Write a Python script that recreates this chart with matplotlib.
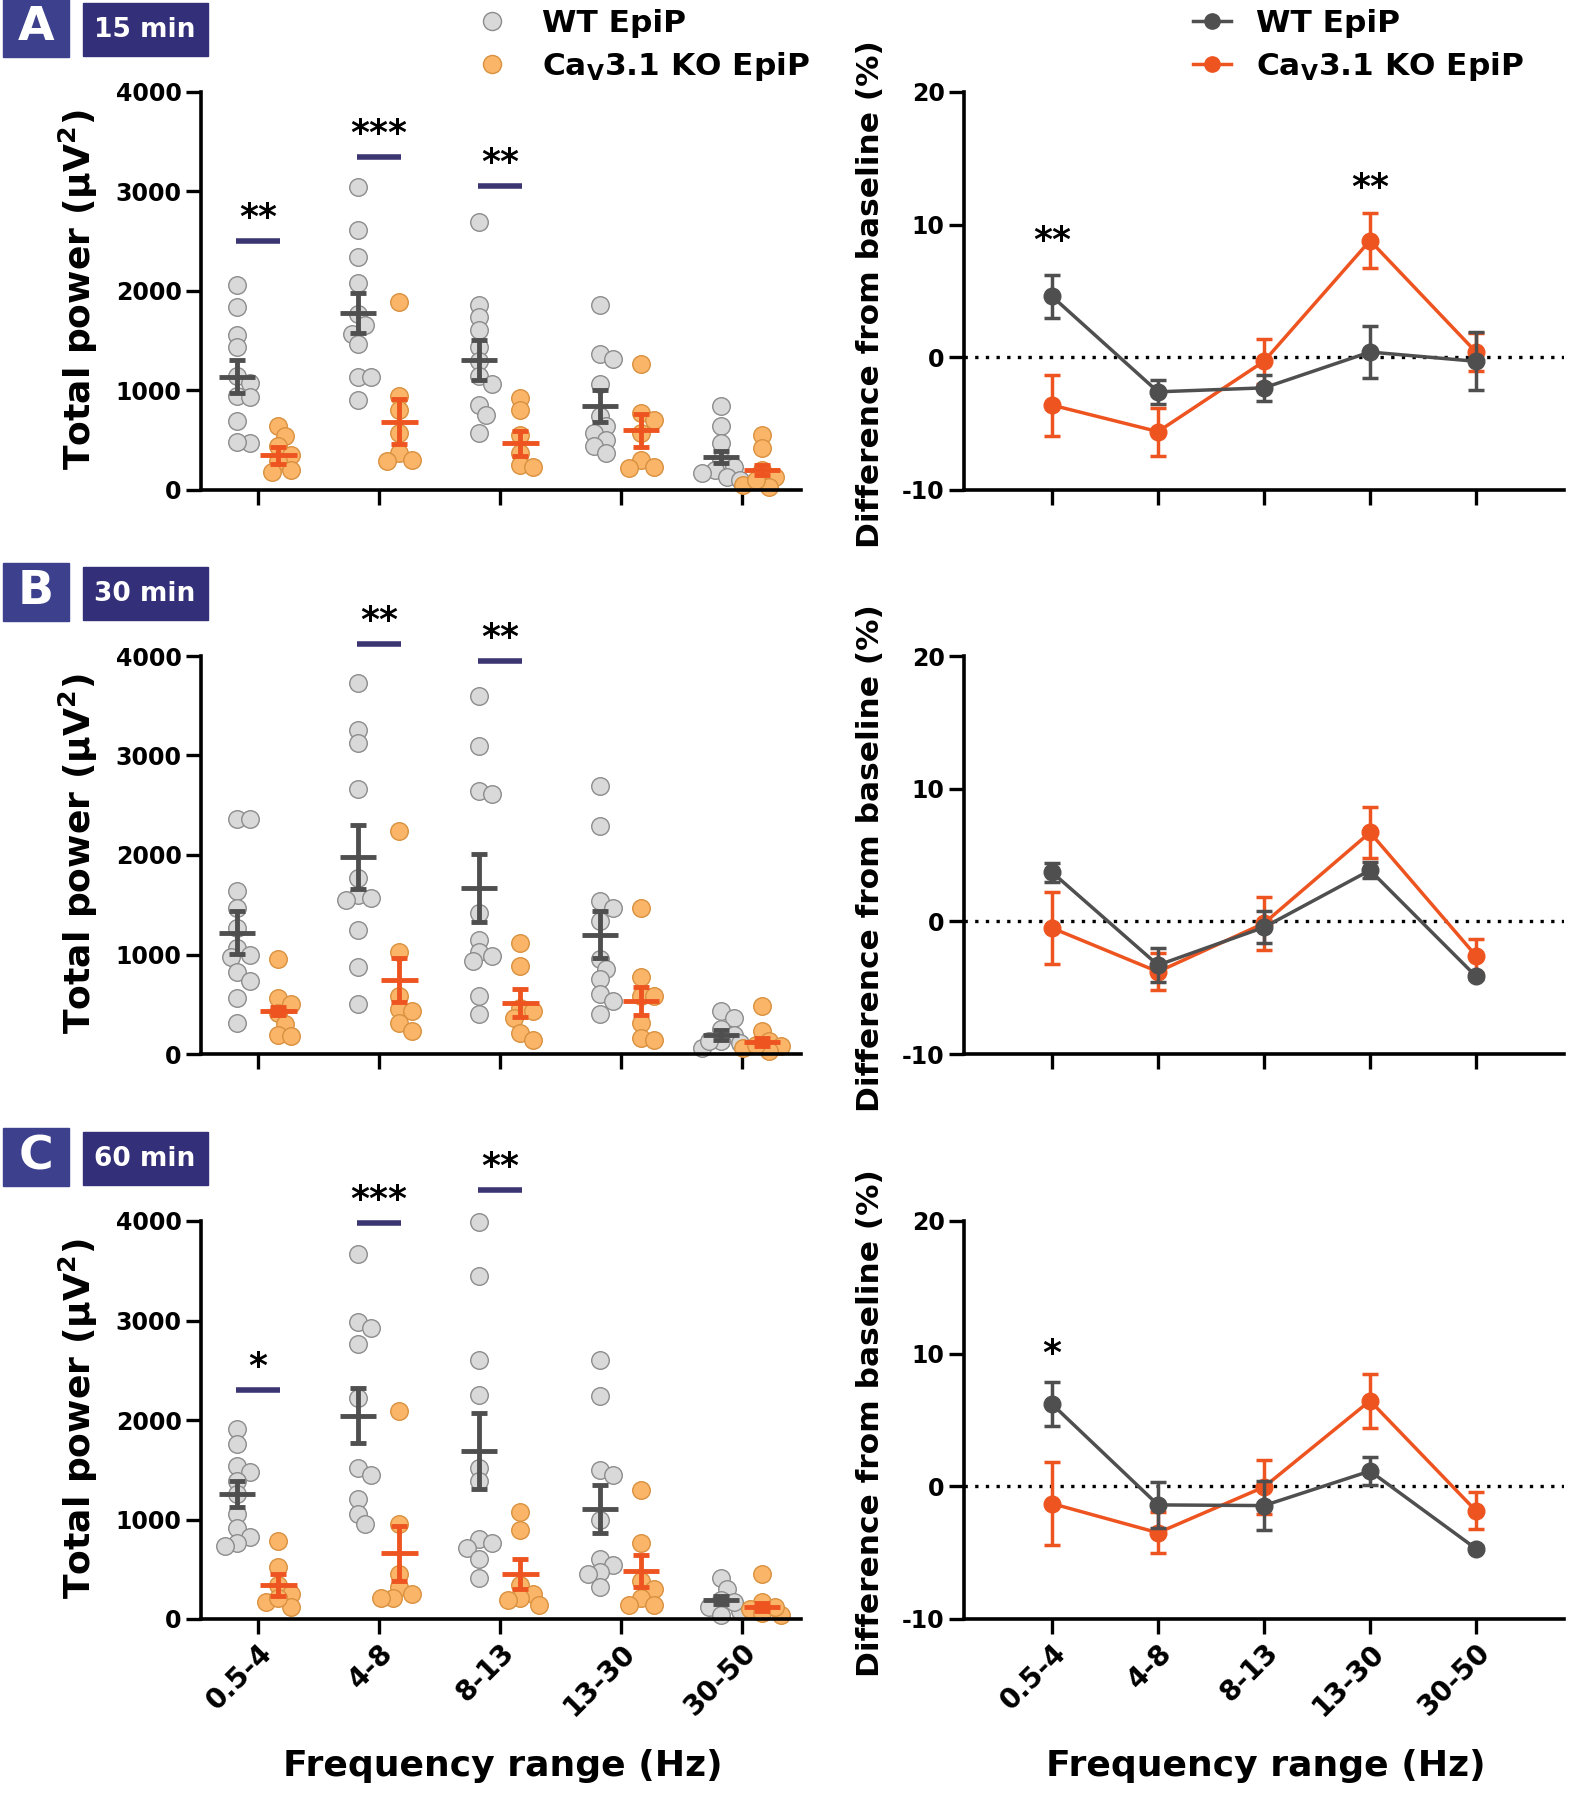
import numpy as np
import matplotlib.pyplot as plt
from matplotlib.patches import Rectangle
from matplotlib.lines import Line2D

plt.rcParams['font.family'] = ['DejaVu Sans']
plt.rcParams['font.weight'] = 'bold'
plt.rcParams['mathtext.default'] = 'bf'
plt.rcParams['axes.unicode_minus'] = False

### Data
bands = ['0.5-4', '4-8', '8-13', '13-30', '30-50']

# total power per animal (uV^2), one list per band
wt_15 = [[2060, 1840, 1560, 1440, 1150, 1080, 940, 930, 690, 470, 480],
         [3050, 2610, 2340, 2080, 1770, 1660, 1570, 1470, 1140, 1140, 900],
         [2690, 1860, 1740, 1610, 1440, 1300, 1150, 1070, 850, 750, 570],
         [1860, 1370, 1320, 1070, 740, 640, 570, 500, 440, 370],
         [840, 640, 470, 300, 230, 200, 130, 100, 170]]
ko_15 = [[640, 540, 440, 350, 290, 200, 180],
         [1890, 940, 800, 570, 370, 300, 290],
         [920, 800, 550, 370, 250, 230],
         [1270, 770, 700, 570, 300, 220, 230],
         [550, 420, 200, 130, 50, 30, 100]]
wt_mean_15 = [1140, 1775, 1305, 840, 335]
wt_sem_15 = [165, 200, 200, 160, 60]
ko_mean_15 = [350, 685, 470, 600, 200]
ko_sem_15 = [85, 225, 125, 165, 50]

wt_30 = [[2360, 2360, 1640, 1470, 1270, 1070, 970, 1000, 820, 730, 560, 310],
         [3730, 3260, 3130, 2660, 1770, 1600, 1570, 1550, 1250, 870, 500],
         [3600, 3100, 2640, 2610, 1420, 1150, 1030, 980, 930, 580, 400],
         [2690, 2290, 1540, 1470, 1340, 950, 850, 750, 600, 530, 400],
         [430, 360, 250, 190, 130, 110, 60, 130]]
ko_30 = [[950, 560, 500, 410, 300, 190, 180],
         [2240, 1030, 580, 450, 430, 310, 230],
         [1120, 880, 460, 360, 430, 210, 140],
         [1470, 770, 580, 580, 310, 160, 140],
         [480, 230, 130, 80, 30, 60, 90]]
wt_mean_30 = [1220, 1980, 1670, 1200, 195]
wt_sem_30 = [215, 320, 345, 235, 50]
ko_mean_30 = [430, 740, 515, 530, 125]
ko_sem_30 = [40, 220, 140, 140, 40]

wt_60 = [[1910, 1760, 1540, 1480, 1390, 1260, 1060, 910, 820, 760, 730],
         [3670, 2980, 2920, 2760, 2220, 1520, 1450, 1210, 1060, 950],
         [3990, 3450, 2600, 2250, 1520, 1390, 800, 760, 710, 600, 410],
         [2600, 2240, 1500, 1450, 1000, 600, 540, 470, 450, 320],
         [410, 300, 190, 120, 80, 40, 170]]
ko_60 = [[780, 520, 340, 250, 170, 120, 210],
         [2090, 950, 450, 320, 250, 210, 210],
         [1080, 890, 340, 250, 210, 140, 190],
         [1300, 760, 380, 300, 210, 140, 140],
         [450, 170, 100, 60, 40, 120]]
wt_mean_60 = [1260, 2045, 1690, 1105, 190]
wt_sem_60 = [130, 275, 380, 240, 40]
ko_mean_60 = [340, 660, 450, 480, 120]
ko_sem_60 = [110, 275, 150, 160, 40]

# difference from baseline (%), mean and SEM
wt_diff_15 = [4.6, -2.6, -2.3, 0.4, -0.3]
wt_err_15 = [1.6, 0.9, 1.0, 1.95, 2.2]
ko_diff_15 = [-3.6, -5.6, -0.3, 8.8, 0.4]
ko_err_15 = [2.3, 1.8, 1.7, 2.05, 1.4]

wt_diff_30 = [3.7, -3.3, -0.45, 3.85, -4.15]
wt_err_30 = [0.7, 1.3, 1.2, 0.6, 0.2]
ko_diff_30 = [-0.5, -3.8, -0.15, 6.7, -2.6]
ko_err_30 = [2.7, 1.4, 2.0, 1.9, 1.3]

wt_diff_60 = [6.2, -1.4, -1.45, 1.15, -4.7]
wt_err_60 = [1.65, 1.75, 1.85, 1.05, 0.2]
ko_diff_60 = [-1.3, -3.5, -0.05, 6.45, -1.85]
ko_err_60 = [3.1, 1.55, 2.05, 2.05, 1.4]

# significance marks (band index, label, height)
sig_pow_15 = [(0, '**', 2500), (1, '***', 3350), (2, '**', 3060)]
sig_pow_30 = [(1, '**', 4120), (2, '**', 3950)]
sig_pow_60 = [(0, '*', 2300), (1, '***', 3980), (2, '**', 4315)]
sig_diff_15 = [(0, '**', 8.8), (3, '**', 12.8)]
sig_diff_30 = []
sig_diff_60 = [(0, '*', 10.0)]

### Colours
GRAY_FILL = '#d9d9d9'
GRAY_EDGE = '#8c8c8c'
ORANGE_FILL = '#fbb569'
ORANGE_EDGE = '#d9913f'
WT_DARK = '#4f4f4f'
KO_RED = '#ee5420'
NAVY = '#3b3672'


def swarm(vals, dx, dy):
    # compact beeswarm: small sideways nudges, some overlap allowed (like Prism)
    vals = np.asarray(vals, float)
    order = np.argsort(-vals)
    offs = np.zeros(len(vals))
    steps = [0.0]
    for k in range(1, 4):
        steps += [k * 0.4 * dx, -k * 0.4 * dx]
    placed = []
    for i in order:
        best, best_d = 0.0, -1
        for s in steps:
            d = min([((s - px) / dx) ** 2 + ((vals[i] - pv) / dy) ** 2 for px, pv in placed] + [9])
            if d >= 0.55:
                best = s
                break
            if d > best_d:
                best, best_d = s, d
        offs[i] = best
        placed.append((best, vals[i]))
    return offs


fig = plt.figure(figsize=(15.8, 18), dpi=100)
W, H = 1580.0, 1800.0

rows = [
    ('A', '15 min', 490, wt_15, ko_15, wt_mean_15, wt_sem_15, ko_mean_15, ko_sem_15, sig_pow_15,
     wt_diff_15, wt_err_15, ko_diff_15, ko_err_15, sig_diff_15),
    ('B', '30 min', 1054, wt_30, ko_30, wt_mean_30, wt_sem_30, ko_mean_30, ko_sem_30, sig_pow_30,
     wt_diff_30, wt_err_30, ko_diff_30, ko_err_30, sig_diff_30),
    ('C', '60 min', 1619, wt_60, ko_60, wt_mean_60, wt_sem_60, ko_mean_60, ko_sem_60, sig_pow_60,
     wt_diff_60, wt_err_60, ko_diff_60, ko_err_60, sig_diff_60),
]

x = np.arange(len(bands))
off = 0.17

for r, (letter, tlabel, ybot, wt, ko, wm, ws, km, ks, sigp, wd, we, kd, ke, sigd) in enumerate(rows):
    last = (r == len(rows) - 1)
    top_px = ybot - 398
    # panel letter boxes
    fig.patches.append(Rectangle((3 / W, 1 - (top_px - 35) / H), 66 / W, 58 / H,
                                 transform=fig.transFigure, color='#3d408c', zorder=0))
    fig.patches.append(Rectangle((83 / W, 1 - (top_px - 36) / H), 125 / W, 53 / H,
                                 transform=fig.transFigure, color='#332f78', zorder=0))
    fig.text(36 / W, 1 - (top_px - 64) / H, letter, color='white', fontsize=34,
             ha='center', va='center')
    fig.text(145 / W, 1 - (top_px - 62) / H, tlabel, color='white', fontsize=19,
             ha='center', va='center')

    # ---- left: total power scatter
    ax = fig.add_axes([201 / W, 1 - ybot / H, 600 / W, 398 / H])
    dx, dy = 0.13, 160
    for i in range(len(bands)):
        ax.scatter(x[i] - off + swarm(wt[i], dx, dy), wt[i], s=160, c=GRAY_FILL,
                   edgecolors=GRAY_EDGE, linewidths=1, zorder=2, clip_on=False)
        ax.scatter(x[i] + off + swarm(ko[i], dx, dy), ko[i], s=160, c=ORANGE_FILL,
                   edgecolors=ORANGE_EDGE, linewidths=1, zorder=2, clip_on=False)
    for xs, m, s, col in [(x - off, wm, ws, WT_DARK), (x + off, km, ks, KO_RED)]:
        ax.errorbar(xs, m, yerr=s, fmt='none', ecolor=col, elinewidth=3.5,
                    capsize=6, capthick=3.5, zorder=4, clip_on=False)
        ax.hlines(m, xs - 0.15, xs + 0.15, colors=col, lw=3.5, zorder=4)
    for i, lab, yv in sigp:
        ax.hlines(yv, i - 0.18, i + 0.18, colors=NAVY, lw=4, clip_on=False)
        ax.text(i, yv + 230, lab, ha='center', va='center', fontsize=26, clip_on=False)
    ax.set_xlim(-0.47, 4.49)
    ax.set_ylim(0, 4000)
    ax.set_yticks([0, 1000, 2000, 3000, 4000])
    ax.set_xticks(x)
    for side in ['top', 'right']:
        ax.spines[side].set_visible(False)
    for side in ['left', 'bottom']:
        ax.spines[side].set_linewidth(2.6)
    ax.tick_params(axis='both', width=2.4, length=11, labelsize=17, pad=3)
    if last:
        ax.set_xticklabels(bands, rotation=45, ha='right', rotation_mode='anchor', fontsize=20)
    else:
        ax.set_xticklabels([])
    fig.text(78 / W, 1 - (ybot - 200) / H, r'Total power ($\mu$V$^{2}$)', rotation=90,
             fontsize=26, ha='center', va='center')

    # ---- right: difference from baseline
    ax2 = fig.add_axes([964 / W, 1 - ybot / H, 600 / W, 398 / H])
    ax2.axhline(0, color='black', lw=2.4, ls=(0, (1, 2.2)), zorder=1)
    ax2.errorbar(x, kd, yerr=ke, fmt='-o', color=KO_RED, lw=2.5, ms=12,
                 elinewidth=2.5, capsize=6, capthick=2.5, zorder=3, clip_on=False)
    ax2.errorbar(x, wd, yerr=we, fmt='-o', color=WT_DARK, lw=2.5, ms=12,
                 elinewidth=2.5, capsize=6, capthick=2.5, zorder=4, clip_on=False)
    for i, lab, yv in sigd:
        ax2.text(i, yv, lab, ha='center', va='center', fontsize=26, clip_on=False)
    ax2.set_xlim(-0.83, 4.83)
    ax2.set_ylim(-10, 20)
    ax2.set_yticks([-10, 0, 10, 20])
    ax2.set_xticks(x)
    for side in ['top', 'right']:
        ax2.spines[side].set_visible(False)
    for side in ['left', 'bottom']:
        ax2.spines[side].set_linewidth(2.6)
    ax2.tick_params(axis='both', width=2.4, length=11, labelsize=17, pad=3)
    if last:
        ax2.set_xticklabels(bands, rotation=45, ha='right', rotation_mode='anchor', fontsize=20)
    else:
        ax2.set_xticklabels([])
    fig.text(870 / W, 1 - (ybot - 196) / H, 'Difference from baseline (%)', rotation=90,
             fontsize=22.5, ha='center', va='center')

# x axis titles
fig.text(503 / W, 1 - 1766 / H, 'Frequency range (Hz)', fontsize=26, ha='center', va='center')
fig.text(1266 / W, 1 - 1766 / H, 'Frequency range (Hz)', fontsize=26, ha='center', va='center')

# legends
h_pts = [Line2D([], [], marker='o', ls='none', ms=13, mfc=GRAY_FILL, mec=GRAY_EDGE),
         Line2D([], [], marker='o', ls='none', ms=13, mfc=ORANGE_FILL, mec=ORANGE_EDGE)]
fig.legend(h_pts, ['WT EpiP', r'Ca$_\mathregular{V}$3.1 KO EpiP'], loc='upper left',
           bbox_to_anchor=(476 / W, 1 - 9 / H), frameon=False, fontsize=22.5,
           handlelength=1.0, handletextpad=1.1, labelspacing=0.38, borderpad=0, borderaxespad=0)
h_lines = [Line2D([], [], marker='o', color=WT_DARK, lw=2.5, ms=11),
           Line2D([], [], marker='o', color=KO_RED, lw=2.5, ms=11)]
fig.legend(h_lines, ['WT EpiP', r'Ca$_\mathregular{V}$3.1 KO EpiP'], loc='upper left',
           bbox_to_anchor=(1193 / W, 1 - 9 / H), frameon=False, fontsize=22.5,
           handlelength=1.2, handletextpad=0.8, labelspacing=0.38, borderpad=0, borderaxespad=0)

fig.savefig('out.png', dpi=100)
